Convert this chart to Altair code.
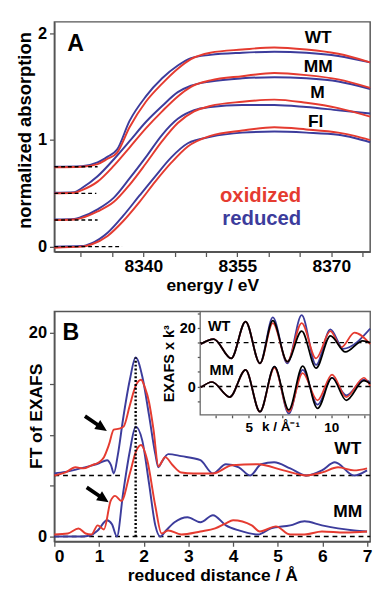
import altair as alt
import pandas as pd

RED = "#e53b30"
BLUE = "#3c3c9c"
FONT = "Liberation Sans"

# ---------------- Panel A : XANES ----------------
E_DOMAIN = [8325.8, 8376.2]
A_Y_DOMAIN = [-0.048, 2.11]

WT_E = [8325.8, 8330.2, 8332.7, 8334.3, 8335.8, 8337.8, 8340.4, 8343.0, 8345.5, 8347.6, 8350.7, 8355.8, 8360.9, 8366.0, 8371.1, 8376.2]
WT_BLUE = [0.75, 0.755, 0.79, 0.845, 0.91, 1.18, 1.41, 1.58, 1.70, 1.77, 1.80, 1.82, 1.83, 1.82, 1.79, 1.73]
WT_RED = [0.745, 0.75, 0.775, 0.825, 0.88, 1.12, 1.36, 1.53, 1.67, 1.76, 1.82, 1.85, 1.87, 1.85, 1.81, 1.73]

MM_E = [8325.8, 8329.0, 8330.2, 8332.7, 8335.3, 8337.8, 8340.4, 8343.0, 8345.5, 8347.6, 8350.7, 8355.8, 8360.9, 8366.0, 8371.1, 8376.2]
MM_BLUE = [0.505, 0.51, 0.55, 0.66, 0.82, 0.99, 1.17, 1.32, 1.45, 1.51, 1.55, 1.58, 1.59, 1.58, 1.55, 1.48]
MM_RED = [0.50, 0.505, 0.53, 0.61, 0.76, 0.93, 1.11, 1.27, 1.41, 1.50, 1.56, 1.60, 1.63, 1.61, 1.57, 1.49]

M_E = [8325.8, 8329.0, 8330.2, 8332.7, 8335.3, 8337.8, 8340.4, 8343.0, 8345.5, 8348.1, 8350.7, 8355.8, 8360.9, 8366.0, 8371.1, 8376.2]
M_BLUE = [0.255, 0.26, 0.28, 0.35, 0.46, 0.64, 0.84, 1.05, 1.20, 1.28, 1.31, 1.33, 1.33, 1.31, 1.28, 1.25]
M_RED = [0.25, 0.255, 0.27, 0.33, 0.42, 0.58, 0.78, 0.99, 1.16, 1.27, 1.32, 1.36, 1.38, 1.35, 1.30, 1.22]

FL_E = [8325.8, 8330.2, 8331.7, 8334.3, 8336.8, 8339.4, 8341.9, 8344.5, 8347.1, 8350.7, 8355.8, 8360.9, 8366.0, 8371.1, 8373.7, 8376.2]
FL_BLUE = [0.0, 0.005, 0.03, 0.13, 0.29, 0.48, 0.66, 0.84, 0.97, 1.03, 1.07, 1.08, 1.07, 1.05, 1.02, 0.98]
FL_RED = [-0.01, 0.0, 0.02, 0.10, 0.24, 0.42, 0.61, 0.79, 0.94, 1.04, 1.09, 1.12, 1.10, 1.07, 1.04, 1.00]

A_BASE_LEVEL = [0.75, 0.5, 0.25, 0.0]
A_BASE_END = [8332.7, 8332.5, 8332.7, 8336.6]

A_LABELS = ["WT", "MM", "M", "Fl"]
A_LABEL_E = [8367.9, 8367.9, 8367.8, 8367.5]
A_LABEL_Y = [1.96, 1.685, 1.44, 1.17]

# ---------------- Panel B : FT of EXAFS ----------------
R_DOMAIN = [0, 7.07]
B_Y_DOMAIN = [-0.48, 22.1]

WT_R_BLUE = [0, 0.25, 0.5, 0.68, 0.85, 1.0, 1.18, 1.27, 1.33, 1.42, 1.54, 1.69, 1.82, 1.97, 2.12, 2.26, 2.33, 2.4, 2.55, 2.84, 3.27, 3.55, 3.84, 4.13, 4.38, 4.63, 4.92, 5.28, 5.64, 5.99, 6.28, 6.71, 7.0]
WT_FT_BLUE = [6.2, 6.35, 6.6, 6.8, 7.0, 7.2, 7.5, 7.0, 6.2, 8.0, 11.6, 15.4, 17.6, 15.7, 11.9, 8.1, 6.8, 7.3, 8.1, 7.9, 7.5, 6.2, 7.1, 6.8, 6.0, 7.1, 7.3, 6.7, 6.0, 6.5, 7.3, 6.0, 6.5]

WT_R_RED = [0, 0.25, 0.47, 0.65, 0.83, 1.0, 1.11, 1.22, 1.33, 1.45, 1.55, 1.69, 1.82, 1.94, 2.03, 2.12, 2.22, 2.33, 2.48, 2.65, 2.84, 3.12, 3.55, 3.98, 4.56, 5.13, 5.64, 6.0, 6.35, 6.71, 7.0]
WT_FT_RED = [6.0, 6.3, 6.8, 6.7, 7.0, 7.3, 7.8, 9.0, 10.5, 10.6, 10.8, 12.9, 14.8, 15.4, 14.6, 13.2, 10.5, 6.9, 7.8, 7.0, 6.3, 6.2, 6.2, 7.0, 7.1, 6.5, 6.0, 6.3, 6.8, 6.5, 6.7]

MM_R_BLUE = [0, 0.61, 0.8, 0.97, 1.18, 1.29, 1.4, 1.54, 1.69, 1.82, 1.97, 2.12, 2.26, 2.37, 2.5, 2.69, 2.98, 3.27, 3.55, 3.84, 4.13, 4.56, 4.85, 5.28, 5.6, 5.99, 6.35, 6.71, 7.0]
MM_FT_BLUE = [0.0, 0.0, 0.1, 0.6, 1.6, 1.2, 0.0, 4.3, 8.4, 10.8, 9.4, 5.2, 1.1, 0.0, 0.6, 1.4, 1.9, 1.4, 2.1, 1.1, 0.6, 0.2, 0.8, 1.1, 1.5, 1.1, 0.8, 0.6, 0.5]

MM_R_RED = [0, 0.3, 0.54, 0.7, 0.83, 0.97, 1.11, 1.26, 1.36, 1.5, 1.69, 1.83, 1.94, 2.08, 2.26, 2.4, 2.55, 2.84, 3.27, 3.6, 3.84, 4.0, 4.42, 4.6, 4.96, 5.28, 5.6, 5.99, 6.5, 7.0]
MM_FT_RED = [0.2, 0.3, 0.8, 0.3, 0.2, 1.1, 0.7, 3.5, 4.0, 3.5, 6.2, 8.4, 9.0, 7.5, 3.0, 0.3, 0.6, 0.2, 0.5, 0.8, 1.3, 1.6, 1.1, 0.5, 1.0, 0.2, 0.2, 0.5, 0.4, 0.5]

B_DASH_LEVEL = [6.0, 6.0, 0.0]
B_DASH_START = [0.0, 2.3, 0.0]
B_DASH_END = [1.47, 7.07, 7.07]

PEAK_R = [1.82]
PEAK_FT = [17.6]

ARROW_R = [0.93, 0.97]
ARROW_FT = [11.1, 4.1]

B_LABELS = ["WT", "MM"]
B_LABEL_R = [6.57, 6.57]
B_LABEL_FT = [8.6, 2.4]

# ---------------- Inset : EXAFS x k^3 ----------------
K_DOMAIN = [2.05, 12.35]
C_DOMAIN = [-9.7, 25.6]

WT_K_BLUE = [2.09, 2.87, 3.93, 4.80, 5.67, 6.45, 7.33, 8.20, 9.07, 9.94, 10.72, 12.35]
WT_C_BLUE = [14.5, 16.2, 9.6, 22.2, 7.9, 23.6, 7.9, 24.4, 7.4, 19.5, 12.9, 19.8]
WT_K_RED = [2.09, 2.87, 3.93, 4.80, 5.67, 6.45, 7.33, 8.20, 9.07, 9.94, 10.6, 11.4, 12.35]
WT_C_RED = [14.5, 16.2, 9.6, 22.2, 7.9, 21.7, 8.5, 21.7, 9.6, 18.9, 13.4, 18.4, 14.5]
WT_K_FIT = [2.09, 2.87, 3.93, 4.80, 5.67, 6.45, 7.33, 8.20, 9.07, 9.94, 10.85, 11.9, 12.35]
WT_C_FIT = [14.5, 16.2, 9.6, 22.2, 7.9, 22.5, 8.5, 18.9, 6.3, 17.3, 11.8, 15.6, 15.0]

MM_K = [2.09, 2.77, 3.84, 4.80, 5.67, 6.55, 7.42, 8.26, 9.16, 10.04, 10.9, 11.97, 12.35]
MM_C_BLUE = [-0.3, 1.55, -3.6, 5.7, -8.6, 6.8, -9.2, 5.7, -6.2, 3.0, -3.0, 2.4, 1.5]
MM_C_RED = [-0.3, 1.55, -3.6, 5.7, -8.6, 6.4, -8.6, 4.6, -4.7, 4.1, -3.6, 3.0, 0.2]
MM_C_FIT = [-0.3, 1.55, -3.6, 5.7, -8.6, 6.8, -8.0, 7.0, -7.5, 3.0, -4.7, 2.0, 1.0]

INSET_DASH_LEVEL = [15.0, 0.0]
INSET_LABELS = ["WT", "MM"]
INSET_LABEL_K = [3.2, 3.35]
INSET_LABEL_C = [20.6, 5.7]

W = 327
HA = 238
HB = 238


def lines_df(xname, yname, items):
    frames = []
    for name, xs, ys in items:
        frames.append(pd.DataFrame({xname: xs, yname: ys, "curve": name}))
    return pd.concat(frames, ignore_index=True)


# ======== Panel A chart ========
xA = alt.X("energy:Q", scale=alt.Scale(domain=E_DOMAIN, nice=False, zero=False),
           axis=alt.Axis(values=list(range(8330, 8380, 5)), format="d",
                         labelExpr="(datum.value - 8340) % 15 == 0 ? datum.label : ''",
                         title="energy / eV", tickSize=5, labelPadding=2, titlePadding=1,
                         labelFontSize=18, titleFontSize=18, grid=False))
yA = alt.Y("value:Q", scale=alt.Scale(domain=A_Y_DOMAIN, nice=False, zero=False),
           axis=alt.Axis(values=[0, 0.25, 0.5, 0.75, 1, 1.25, 1.5, 1.75, 2], format="d",
                         labelExpr="datum.value % 1 == 0 ? datum.label : ''",
                         title="normalized absorption", titleFontSize=19,
                         titleX=-25, titleY=112, titleBaseline="alphabetic",
                         tickSize=5, labelPadding=3, labelFontSize=17, grid=False))

a_blue = lines_df("energy", "value", [("WT", WT_E, WT_BLUE), ("MM", MM_E, MM_BLUE),
                                      ("M", M_E, M_BLUE), ("Fl", FL_E, FL_BLUE)])
a_red = lines_df("energy", "value", [("WT", WT_E, WT_RED), ("MM", MM_E, MM_RED),
                                     ("M", M_E, M_RED), ("Fl", FL_E, FL_RED)])
a_base = pd.DataFrame({"energy": [E_DOMAIN[0]] * 4, "energy2": A_BASE_END, "value": A_BASE_LEVEL})
a_lab = pd.DataFrame({"energy": A_LABEL_E, "value": A_LABEL_Y, "text": A_LABELS})
a_panel = pd.DataFrame({"energy": [8329.2], "value": [1.90], "text": ["A"]})
a_state = pd.DataFrame({"energy": [8358.7, 8358.9], "value": [0.47, 0.256],
                        "text": ["oxidized", "reduced"], "col": [RED, BLUE]})

lineA = dict(strokeWidth=2, interpolate="monotone")
A_blue = alt.Chart(a_blue).mark_line(color=BLUE, **lineA).encode(x=xA, y=yA, detail="curve:N")
A_red = alt.Chart(a_red).mark_line(color=RED, **lineA).encode(x=xA, y=yA, detail="curve:N")
A_base = alt.Chart(a_base).mark_rule(color="black", strokeDash=[4, 3], strokeWidth=1.4).encode(
    x=xA, x2="energy2:Q", y=yA)
A_lab = alt.Chart(a_lab).mark_text(font=FONT, fontSize=18, fontWeight="bold", color="black",
                                   align="center", baseline="middle").encode(x=xA, y=yA, text="text:N")
A_pan = alt.Chart(a_panel).mark_text(font=FONT, fontSize=24, fontWeight="bold", color="black",
                                     align="center", baseline="middle").encode(x=xA, y=yA, text="text:N")
A_state = alt.Chart(a_state).mark_text(font=FONT, fontSize=21, fontWeight="bold",
                                       align="center", baseline="middle").encode(
    x=xA, y=yA, text="text:N", color=alt.Color("col:N", scale=None))

panelA = alt.layer(A_blue, A_red, A_base, A_lab, A_pan, A_state).properties(width=W, height=HA)

# ======== Panel B main ========
xB = alt.X("r:Q", scale=alt.Scale(domain=R_DOMAIN, nice=False, zero=False),
           axis=alt.Axis(values=[i * 0.5 for i in range(15)], format="d",
                         labelExpr="datum.value % 1 == 0 ? datum.label : ''",
                         labelFlush=True,
                         title="reduced distance / Å", tickSize=5, labelPadding=2, titlePadding=1,
                         labelFontSize=18, titleFontSize=18, grid=False))
yB = alt.Y("ft:Q", scale=alt.Scale(domain=B_Y_DOMAIN, nice=False, zero=False),
           axis=alt.Axis(values=[0, 5, 10, 15, 20], format="d",
                         labelExpr="datum.value % 20 == 0 ? datum.label : ''",
                         title="FT of EXAFS", titleFontSize=18,
                         titleX=-13, titleY=108, titleBaseline="alphabetic",
                         tickSize=5, labelPadding=3, labelFontSize=17, grid=False))

b_blue = lines_df("r", "ft", [("WT", WT_R_BLUE, WT_FT_BLUE), ("MM", MM_R_BLUE, MM_FT_BLUE)])
b_red = lines_df("r", "ft", [("WT", WT_R_RED, WT_FT_RED), ("MM", MM_R_RED, MM_FT_RED)])
b_dash = pd.DataFrame({"r": B_DASH_START, "r2": B_DASH_END, "ft": B_DASH_LEVEL})
b_peak = pd.DataFrame({"r": PEAK_R, "ft": [0.0], "ft2": PEAK_FT})
b_arrow = pd.DataFrame({"r": ARROW_R, "ft": ARROW_FT})
b_lab = pd.DataFrame({"r": B_LABEL_R, "ft": B_LABEL_FT, "text": B_LABELS})
b_panel = pd.DataFrame({"r": [0.37], "ft": [20.0], "text": ["B"]})

B_blue = alt.Chart(b_blue).mark_line(color=BLUE, **lineA).encode(x=xB, y=yB, detail="curve:N")
B_red = alt.Chart(b_red).mark_line(color=RED, **lineA).encode(x=xB, y=yB, detail="curve:N")
B_dash = alt.Chart(b_dash).mark_rule(color="black", strokeDash=[5, 4], strokeWidth=1.5).encode(
    x=xB, x2="r2:Q", y=yB)
B_peak = alt.Chart(b_peak).mark_rule(color="black", strokeDash=[2, 2], strokeWidth=2.5).encode(
    x=xB, y=yB, y2="ft2:Q")
B_arrow = alt.Chart(b_arrow).mark_point(shape="arrow", filled=True, color="black", opacity=1,
                                        size=750, angle=124, strokeWidth=0).encode(x=xB, y=yB)
B_lab = alt.Chart(b_lab).mark_text(font=FONT, fontSize=18, fontWeight="bold", color="black",
                                   align="center", baseline="middle").encode(x=xB, y=yB, text="text:N")
B_pan = alt.Chart(b_panel).mark_text(font=FONT, fontSize=24, fontWeight="bold", color="black",
                                     align="center", baseline="middle").encode(x=xB, y=yB, text="text:N")

mainB = alt.layer(B_dash, B_blue, B_red, B_peak, B_arrow, B_lab, B_pan)

# ======== Inset ========
IN_LEFT = 151
IN_BOTTOM = round(HB * 107 / 237)
xI = alt.X("k:Q", scale=alt.Scale(domain=K_DOMAIN, range=[IN_LEFT, W], nice=False, zero=False),
           axis=alt.Axis(orient="bottom", offset=IN_BOTTOM - HB, values=list(range(3, 13)), format="d",
                         labelExpr="datum.value % 5 == 0 ? datum.label : ''",
                         tickSize=3, labelPadding=3, labelFontSize=14, title=None,
                         domain=False, grid=False))
yI = alt.Y("chi:Q", scale=alt.Scale(domain=C_DOMAIN, range=[IN_BOTTOM, 0], nice=False, zero=False),
           axis=alt.Axis(orient="left", offset=-IN_LEFT, values=[-5, 0, 5, 10, 15, 20, 25], format="d",
                         labelExpr="datum.value % 20 == 0 ? datum.label : ''",
                         tickSize=3, labelPadding=2, labelFontSize=15,
                         title="EXAFS x k³", titleFontSize=15, titlePadding=3,
                         domain=False, grid=False))

i_frame = pd.DataFrame({"k": [K_DOMAIN[0]], "k2": [K_DOMAIN[1]], "chi": [C_DOMAIN[0]], "chi2": [C_DOMAIN[1]]})
i_dash = pd.DataFrame({"k": [K_DOMAIN[0]] * 2, "k2": [K_DOMAIN[1]] * 2, "chi": INSET_DASH_LEVEL})
i_blue = lines_df("k", "chi", [("WT", WT_K_BLUE, WT_C_BLUE), ("MM", MM_K, MM_C_BLUE)])
i_red = lines_df("k", "chi", [("WT", WT_K_RED, WT_C_RED), ("MM", MM_K, MM_C_RED)])
i_fit = lines_df("k", "chi", [("WT", WT_K_FIT, WT_C_FIT), ("MM", MM_K, MM_C_FIT)])
i_lab = pd.DataFrame({"k": INSET_LABEL_K, "chi": INSET_LABEL_C, "text": INSET_LABELS})
i_xt = pd.DataFrame({"k": [6.94], "chi": [C_DOMAIN[0]], "text": ["k / Å⁻¹"]})

lineI = dict(strokeWidth=1.8, interpolate="monotone")
I_frame = alt.Chart(i_frame).mark_rect(fill="white", stroke="#666666", strokeWidth=1.3).encode(
    x=xI, x2="k2:Q", y=yI, y2="chi2:Q")
I_dash = alt.Chart(i_dash).mark_rule(color="black", strokeDash=[5, 4], strokeWidth=1.4).encode(
    x=xI, x2="k2:Q", y=yI)
I_blue = alt.Chart(i_blue).mark_line(color=BLUE, **lineI).encode(x=xI, y=yI, detail="curve:N")
I_red = alt.Chart(i_red).mark_line(color=RED, **lineI).encode(x=xI, y=yI, detail="curve:N")
I_fit = alt.Chart(i_fit).mark_line(color="black", **lineI).encode(x=xI, y=yI, detail="curve:N")
I_lab = alt.Chart(i_lab).mark_text(font=FONT, fontSize=15, fontWeight="bold", color="black",
                                   align="center", baseline="middle").encode(x=xI, y=yI, text="text:N")
I_xt = alt.Chart(i_xt).mark_text(font=FONT, fontSize=14, fontWeight="bold", color="black",
                                 align="center", baseline="middle", dy=13).encode(x=xI, y=yI, text="text:N")

inset = alt.layer(I_frame, I_dash, I_blue, I_red, I_fit, I_lab, I_xt)

panelB = alt.layer(mainB, inset).resolve_scale(x="independent", y="independent").properties(
    width=W, height=HB)

chart = alt.vconcat(panelA, panelB, spacing=15).properties(
    padding={"left": 7, "top": 3, "right": 0, "bottom": -3}, background="white"
).configure_view(stroke="#555555", strokeWidth=1.5, fill="white").configure_axis(
    labelFont=FONT, titleFont=FONT, labelFontWeight="bold", titleFontWeight="bold",
    labelColor="black", titleColor="black",
    domainColor="#555555", domainWidth=1.5, tickColor="#555555", tickWidth=1.3
)

chart.save("out.html", embed_options={"renderer": "svg", "actions": False})
